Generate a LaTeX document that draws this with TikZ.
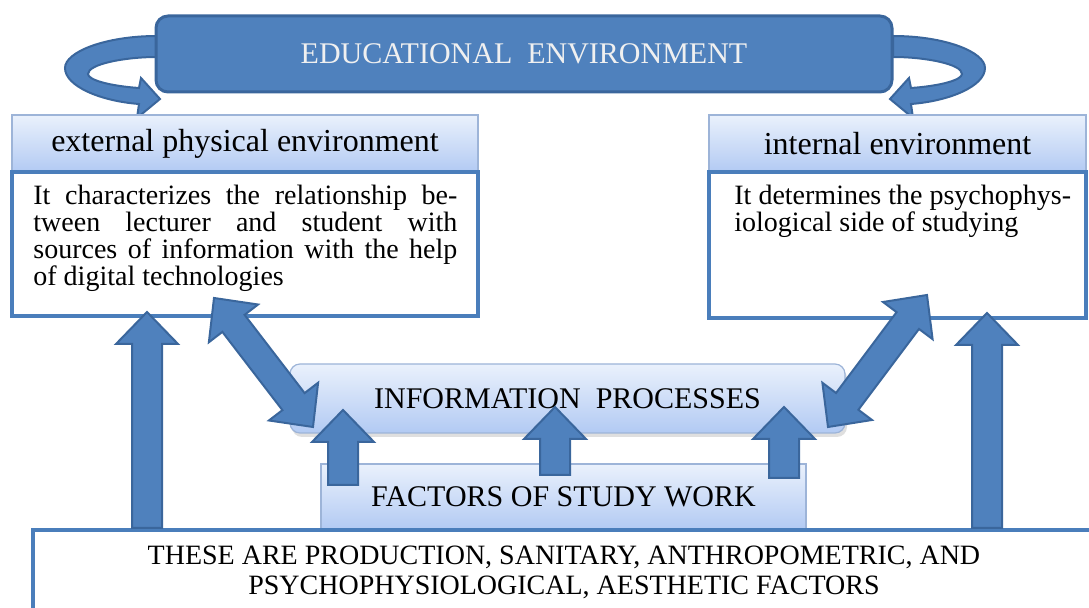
\documentclass[tikz,border=0pt]{standalone}
\usepackage{fontspec}
\setmainfont{Liberation Serif}
\usetikzlibrary{calc,shadows}

\definecolor{midblue}{HTML}{4F81BD}
\definecolor{edgeblue}{HTML}{3A669C}
\definecolor{headtop}{HTML}{EAF1FC}
\definecolor{headbot}{HTML}{B2CAF3}
\definecolor{paleedge}{HTML}{9DB4D8}
\definecolor{lineblue}{HTML}{4A7EBB}

\newcommand{\jline}[1]{\makebox[212pt][s]{#1}}

% single block arrow: tail, tip
\newcommand{\blockarrow}[2]{%
  \path ($(#2)!16pt!(#1)$) coordinate (ba-c);
  \filldraw[blockarr] ($(#1)!7.5pt!90:(#2)$) -- ($(ba-c)!7.5pt!90:(#2)$)
    -- ($(ba-c)!15.5pt!90:(#2)$) -- (#2) -- ($(ba-c)!15.5pt!-90:(#2)$)
    -- ($(ba-c)!7.5pt!-90:(#2)$) -- ($(#1)!7.5pt!-90:(#2)$) -- cycle;}

% double block arrow: one tip, other tip
\newcommand{\dblarrow}[2]{%
  \path ($(#2)!16pt!(#1)$) coordinate (da-c) ($(#1)!16pt!(#2)$) coordinate (da-d);
  \filldraw[blockarr] (#1) -- ($(da-d)!15.5pt!90:(#2)$) -- ($(da-d)!7pt!90:(#2)$)
    -- ($(da-c)!7pt!90:(#2)$) -- ($(da-c)!15.5pt!90:(#2)$) -- (#2)
    -- ($(da-c)!15.5pt!-90:(#2)$) -- ($(da-c)!7pt!-90:(#2)$)
    -- ($(da-d)!7pt!-90:(#2)$) -- ($(da-d)!15.5pt!-90:(#2)$) -- cycle;}

\tikzset{
  topbox/.style={draw=edgeblue, fill=midblue, line width=1.5pt, rounded corners=6pt,
    text=white!94!black, font=\fontsize{15}{17}\selectfont},
  headbox/.style={draw=paleedge, line width=0.6pt, top color=headtop, bottom color=headbot,
    font=\fontsize{16}{18}\selectfont},
  bodybox/.style={draw=lineblue, fill=white, line width=2pt},
  bodytext/.style={anchor=north west, inner sep=0pt, align=left,
    font=\fontsize{14}{13.4}\selectfont},
  procbox/.style={draw=paleedge, line width=0.6pt, top color=headtop, bottom color=headbot,
    font=\fontsize{15}{17}\selectfont},
  blockarr/.style={fill=midblue, draw=edgeblue, line width=1pt},
}

\begin{document}
\begin{tikzpicture}[x=0.5pt, y=-0.5pt]
    \useasboundingbox (0,0) rectangle (1089,608);

    % curved arrows round the top box
    \filldraw[blockarr] (157,36) .. controls (105,36) and (65,52) .. (65,68)
        .. controls (65,86) and (100,101) .. (139,104) -- (137,118) -- (160,99)
        -- (141,78) -- (139,88) .. controls (110,86) and (88,80) .. (88,74)
        .. controls (88,64) and (125,57) .. (157,57) -- cycle;
    \filldraw[blockarr] (893,36) .. controls (945,36) and (985,52) .. (985,68)
        .. controls (985,86) and (950,101) .. (911,104) -- (913,118) -- (890,99)
        -- (909,78) -- (911,88) .. controls (940,86) and (962,80) .. (962,74)
        .. controls (962,64) and (925,57) .. (893,57) -- cycle;

    \node[topbox, minimum width=368pt, minimum height=38pt] (edu) at (524,54) {EDUCATIONAL\ \ ENVIRONMENT};

    \node[headbox, minimum width=233pt, minimum height=28.5pt] (ext) at (245,143.5) {external physical environment};
    \node[bodybox, minimum width=233pt, minimum height=72pt] (extbody) at (245,244) {};
    \node[bodytext] (exttext) at (33,185) {\jline{It characterizes the relationship be-}\\
        \jline{tween lecturer and student with}\\
        \jline{sources of information with the help}\\
        of digital technologies};

    \node[headbox, minimum width=188.5pt, minimum height=28.5pt] (int) at (897.5,143.5) {internal environment};
    \node[bodybox, minimum width=188.5pt, minimum height=73pt] (intbody) at (897.5,245) {};
    \node[bodytext] (inttext) at (734,185) {It determines the psychophys-\\ iological side of studying};

    \node[procbox, rounded corners=5pt, minimum width=277.5pt, minimum height=34.5pt,
        drop shadow={opacity=0.25, shadow xshift=1pt, shadow yshift=-2pt}] (proc) at (567.5,398.5) {INFORMATION\ \ PROCESSES};
    \node[procbox, minimum width=242.5pt, minimum height=33pt] (fact) at (563.5,497) {FACTORS OF STUDY WORK};
    \node[bodybox, minimum width=531pt, minimum height=42.5pt, align=center,
        font=\fontsize{14}{15}\selectfont] (kinds) at (564,572.5)
        {THESE ARE PRODUCTION, SANITARY, ANTHROPOMETRIC, AND\\ PSYCHOPHYSIOLOGICAL, AESTHETIC FACTORS};

    % block arrows
    \coordinate (upL0) at (147,0 |- kinds.north);
    \coordinate (upL1) at (147,312);
    \coordinate (upR0) at (987,0 |- kinds.north);
    \coordinate (upR1) at (987,313);
    \coordinate (dgL0) at (214,298);
    \coordinate (dgL1) at (313,427);
    \coordinate (dgR0) at (828,427);
    \coordinate (dgR1) at (927,295);
    \coordinate (smA0) at (343,485);
    \coordinate (smA1) at (343,410);
    \coordinate (smB0) at (555,475);
    \coordinate (smB1) at (555,407);
    \coordinate (smC0) at (784,478);
    \coordinate (smC1) at (784,407);

    \blockarrow{upL0}{upL1}
    \blockarrow{upR0}{upR1}
    \dblarrow{dgL0}{dgL1}
    \dblarrow{dgR0}{dgR1}
    \blockarrow{smA0}{smA1}
    \blockarrow{smB0}{smB1}
    \blockarrow{smC0}{smC1}
\end{tikzpicture}
\end{document}
